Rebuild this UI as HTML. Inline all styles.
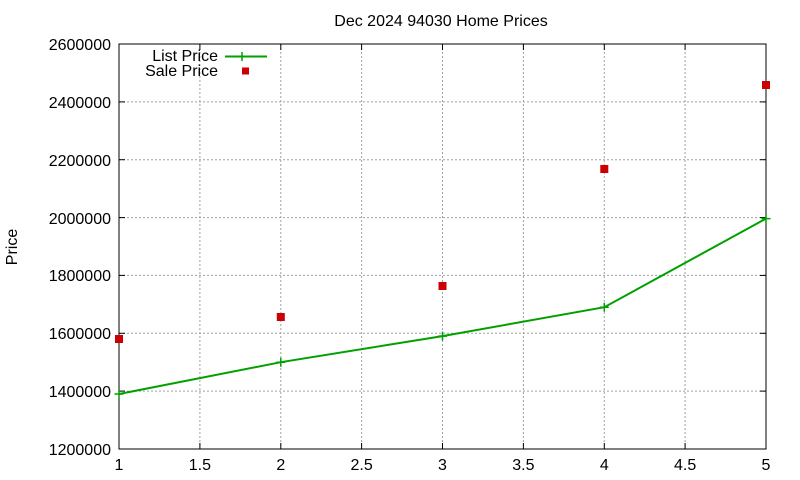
<!DOCTYPE html>
<html><head><meta charset="utf-8"><style>
html,body{margin:0;padding:0;background:#fff;}
svg{display:block;font-family:"Liberation Sans",sans-serif;}
</style></head><body>
<svg width="800" height="480" viewBox="0 0 800 480" xmlns="http://www.w3.org/2000/svg">
<rect width="800" height="480" fill="#fff"/>
<g stroke="#a0a0a0" stroke-width="1" stroke-dasharray="2,2" fill="none">
<line x1="119" y1="391.1" x2="766" y2="391.1"/>
<line x1="119" y1="333.3" x2="766" y2="333.3"/>
<line x1="119" y1="275.4" x2="766" y2="275.4"/>
<line x1="119" y1="217.6" x2="766" y2="217.6"/>
<line x1="119" y1="159.7" x2="766" y2="159.7"/>
<line x1="119" y1="101.9" x2="766" y2="101.9"/>
<line x1="199.9" y1="44" x2="199.9" y2="449"/>
<line x1="280.8" y1="44" x2="280.8" y2="449"/>
<line x1="361.6" y1="44" x2="361.6" y2="449"/>
<line x1="442.5" y1="44" x2="442.5" y2="449"/>
<line x1="523.4" y1="44" x2="523.4" y2="449"/>
<line x1="604.3" y1="44" x2="604.3" y2="449"/>
<line x1="685.1" y1="44" x2="685.1" y2="449"/>
</g>
<rect x="119" y="44" width="647" height="405" fill="none" stroke="#000" stroke-width="1"/>
<g stroke="#000" stroke-width="1">
<line x1="119" y1="391.1" x2="125" y2="391.1"/><line x1="766" y1="391.1" x2="760" y2="391.1"/>
<line x1="119" y1="333.3" x2="125" y2="333.3"/><line x1="766" y1="333.3" x2="760" y2="333.3"/>
<line x1="119" y1="275.4" x2="125" y2="275.4"/><line x1="766" y1="275.4" x2="760" y2="275.4"/>
<line x1="119" y1="217.6" x2="125" y2="217.6"/><line x1="766" y1="217.6" x2="760" y2="217.6"/>
<line x1="119" y1="159.7" x2="125" y2="159.7"/><line x1="766" y1="159.7" x2="760" y2="159.7"/>
<line x1="119" y1="101.9" x2="125" y2="101.9"/><line x1="766" y1="101.9" x2="760" y2="101.9"/>
<line x1="199.9" y1="449" x2="199.9" y2="443"/><line x1="199.9" y1="44" x2="199.9" y2="50"/>
<line x1="280.8" y1="449" x2="280.8" y2="443"/><line x1="280.8" y1="44" x2="280.8" y2="50"/>
<line x1="361.6" y1="449" x2="361.6" y2="443"/><line x1="361.6" y1="44" x2="361.6" y2="50"/>
<line x1="442.5" y1="449" x2="442.5" y2="443"/><line x1="442.5" y1="44" x2="442.5" y2="50"/>
<line x1="523.4" y1="449" x2="523.4" y2="443"/><line x1="523.4" y1="44" x2="523.4" y2="50"/>
<line x1="604.3" y1="449" x2="604.3" y2="443"/><line x1="604.3" y1="44" x2="604.3" y2="50"/>
<line x1="685.1" y1="449" x2="685.1" y2="443"/><line x1="685.1" y1="44" x2="685.1" y2="50"/>
</g>
<g font-size="16" fill="#000" text-anchor="end">
<text x="111" y="455">1200000</text>
<text x="111" y="397">1400000</text>
<text x="111" y="339">1600000</text>
<text x="111" y="281">1800000</text>
<text x="111" y="224">2000000</text>
<text x="111" y="166">2200000</text>
<text x="111" y="108">2400000</text>
<text x="111" y="50">2600000</text>
</g>
<g font-size="16" fill="#000" text-anchor="middle">
<text x="119" y="470">1</text>
<text x="199.9" y="470">1.5</text>
<text x="280.8" y="470">2</text>
<text x="361.6" y="470">2.5</text>
<text x="442.5" y="470">3</text>
<text x="523.4" y="470">3.5</text>
<text x="604.3" y="470">4</text>
<text x="685.1" y="470">4.5</text>
<text x="766" y="470">5</text>
<text x="441" y="26">Dec 2024 94030 Home Prices</text>
<text transform="translate(17,247) rotate(-90)">Price</text>
</g>
<g font-size="16" text-anchor="end" fill="#000">
<text x="218" y="61">List Price</text>
<text x="218" y="76">Sale Price</text>
</g>
<line x1="225" y1="56.5" x2="267" y2="56.5" stroke="#00a000" stroke-width="2"/>
<path d="M242 52v9M237.5 56.5h9" stroke="#00a000" stroke-width="1.5"/>
<rect x="242" y="67.5" width="7" height="7" fill="#cc0000"/>
<polyline points="119,394 280.8,362.2 442.5,336.1 604.3,307.2 766,218.6" fill="none" stroke="#00a000" stroke-width="2"/>
<g stroke="#00a000" stroke-width="1.5">
<path d="M119 389.5v9M114.5 394h9"/>
<path d="M280.8 357.7v9M276.3 362.2h9"/>
<path d="M442.5 331.6v9M438 336.1h9"/>
<path d="M604.3 302.7v9M599.8 307.2h9"/>
<path d="M766 214.1v9M761.5 218.6h9"/>
</g>
<g fill="#cc0000">
<rect x="115" y="335" width="8" height="8"/>
<rect x="276.8" y="313" width="8" height="8"/>
<rect x="438.5" y="282" width="8" height="8"/>
<rect x="600.3" y="165" width="8" height="8"/>
<rect x="762" y="81" width="8" height="8"/>
</g>
</svg>
</body></html>
